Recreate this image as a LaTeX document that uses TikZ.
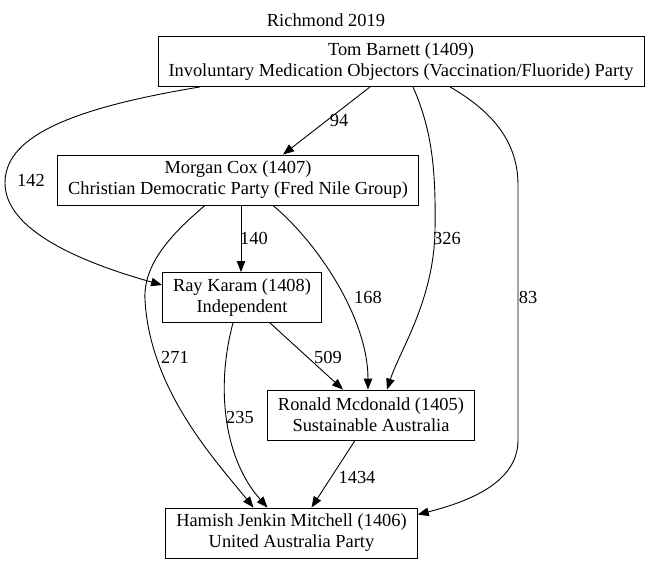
\documentclass[tikz,border=0pt]{standalone}
\usepackage{fontspec}
\setmainfont{Liberation Serif}
\usetikzlibrary{arrows.meta, positioning}
\tikzstyle{cand} = [draw=black, rectangle, align=center, minimum height=50pt, inner xsep=10.5pt, font=\fontsize{18.4}{21}\selectfont]
\tikzstyle{arrow} = [-{Triangle[length=11pt,width=8.5pt]}]
\tikzstyle{lbl} = [font=\fontsize{18.4}{21}\selectfont, inner sep=0pt]

\begin{document}
\begin{tikzpicture}[x=1pt, y=-1pt, line width=0.9pt]
    \useasboundingbox (0,0) rectangle (653,567);
    \node[lbl] (title) at (326,20) {Richmond 2019};
    % candidates
    \node[cand] (tom) at (401,61.5) {Tom Barnett (1409)\\Involuntary Medication Objectors (Vaccination/Fluoride) Party};
    \node[cand] (morgan) at (238,180) {Morgan Cox (1407)\\Christian Democratic Party (Fred Nile Group)};
    \node[cand] (ray) at (242,297.5) {Ray Karam (1408)\\Independent};
    \node[cand] (ronald) at (371,415) {Ronald Mcdonald (1405)\\Sustainable Australia};
    \node[cand] (hamish) at (291.5,533) {Hamish Jenkin Mitchell (1406)\\United Australia Party};
    % preference flows
    \draw[arrow] ([xshift=-31pt]tom.south) -- ([xshift=45pt]morgan.north) node[lbl] at (339,120) {94};
    \draw[arrow] ([xshift=-201pt]tom.south) .. controls (60,110) and (5,140) .. (5,183) .. controls (5,230) and (80,262) .. ([yshift=12.5pt]ray.west) node[lbl] at (31,180) {142};
    \draw[arrow] ([xshift=12pt]tom.south) .. controls (432,130) and (436,170) .. (435,230) .. controls (434,300) and (400,350) .. ([xshift=16pt]ronald.north) node[lbl] at (447,238) {326};
    \draw[arrow] ([xshift=49pt]tom.south) .. controls (490,110) and (518,140) .. (518,185) -- (518,440) .. controls (518,480) and (475,500) .. ([yshift=-7pt]hamish.north east) node[lbl] at (528,297) {83};
    \draw[arrow] ([xshift=3pt]morgan.south) -- ([xshift=-1pt]ray.north) node[lbl] at (254,238) {140};
    \draw[arrow] ([xshift=35pt]morgan.south) .. controls (320,245) and (368,320) .. ([xshift=-3pt]ronald.north) node[lbl] at (368,297) {168};
    \draw[arrow] ([xshift=-33pt]morgan.south) .. controls (170,235) and (143,265) .. (145,300) .. controls (150,390) and (215,460) .. ([xshift=-38pt]hamish.north) node[lbl] at (175,357) {271};
    \draw[arrow] ([xshift=28pt]ray.south) -- ([xshift=-28pt]ronald.north) node[lbl] at (328,357) {509};
    \draw[arrow] ([xshift=-9pt]ray.south) .. controls (215,390) and (225,460) .. ([xshift=-24pt]hamish.north) node[lbl] at (240,417) {235};
    \draw[arrow] ([xshift=-16pt]ronald.south) -- ([xshift=20pt]hamish.north) node[lbl] at (357,477) {1434};
\end{tikzpicture}
\end{document}
